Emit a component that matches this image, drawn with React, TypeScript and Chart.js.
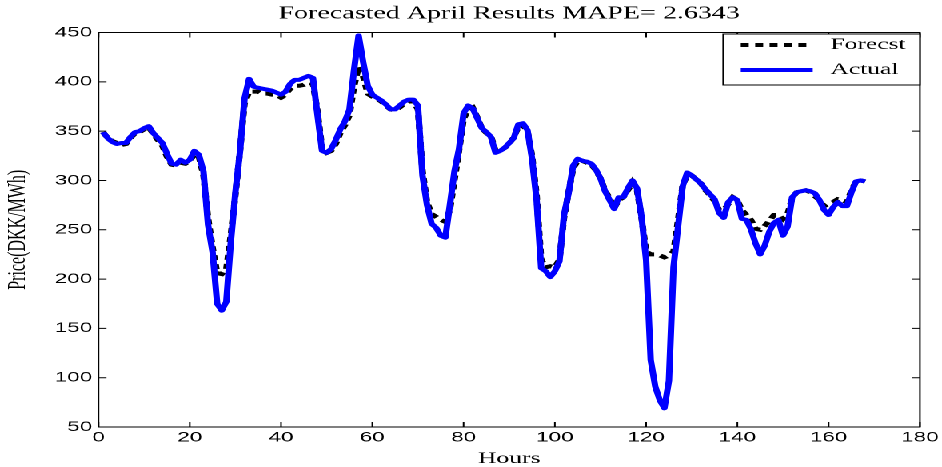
import React, { useEffect, useRef } from "react";
import { Chart, registerables } from "chart.js";

Chart.register(...registerables);

const TITLE = "Forecasted April Results MAPE= 2.6343";
const X_LABEL = "Hours";
const Y_LABEL = "Price(DKK/MWh)";
const SERIES_NAMES = ["Forecst", "Actual"];
const X_MIN = 0;
const X_MAX = 180;
const X_STEP = 20;
const Y_MIN = 50;
const Y_MAX = 450;
const Y_STEP = 50;

const FORECAST = [
  349, 343, 340, 338, 336, 337, 343, 348, 349, 352,
  354, 347, 341, 335, 324, 316, 315, 318, 317, 320,
  326, 324, 305, 262, 232, 206, 205, 210, 245, 285,
  330, 378, 390, 390, 390, 388, 388, 387, 387, 384,
  387, 393, 396, 396, 397, 399, 398, 370, 332, 328,
  330, 337, 348, 356, 366, 395, 415, 405, 388, 385,
  383, 380, 376, 372, 371, 374, 378, 380, 380, 372,
  310, 278, 266, 263, 260, 258, 270, 300, 330, 362,
  372, 374, 364, 353, 348, 345, 330, 330, 333, 337,
  344, 354, 356, 350, 325, 285, 220, 212, 213, 212,
  220, 262, 288, 312, 320, 320, 318, 316, 310, 302,
  290, 282, 272, 280, 283, 290, 298, 290, 262, 228,
  225, 225, 224, 222, 224, 228, 260, 295, 305, 305,
  301, 297, 290, 285, 279, 270, 270, 276, 283, 280,
  270, 265, 260, 251, 250, 254, 259, 265, 265, 261,
  266, 282, 288, 289, 290, 288, 284, 280, 274, 276,
  278, 281, 280, 278, 290, 299, 300, 299,
];

const ACTUAL = [
  349, 343, 339, 337, 338, 338, 344, 349, 350, 353,
  355, 348, 343, 338, 327, 317, 316, 321, 318, 321,
  330, 326, 309, 255, 227, 175, 168, 177, 238, 288,
  329, 383, 403, 395, 394, 393, 392, 391, 389, 387,
  390, 398, 402, 402, 404, 406, 404, 366, 330, 328,
  332, 341, 352, 360, 372, 412, 447, 420, 396, 387,
  384, 381, 377, 372, 372, 376, 380, 382, 382, 376,
  305, 275, 256, 252, 244, 242, 275, 309, 332, 368,
  376, 373, 363, 353, 349, 344, 328, 330, 333, 338,
  343, 357, 358, 351, 322, 280, 211, 208, 202, 208,
  218, 265, 287, 315, 322, 320, 319, 317, 311, 302,
  289, 280, 271, 283, 283, 292, 300, 292, 263, 219,
  118, 91, 77, 69, 97, 212, 253, 294, 308, 305,
  301, 297, 291, 286, 281, 267, 262, 278, 283, 280,
  261, 260, 250, 236, 225, 234, 248, 257, 260, 244,
  253, 283, 288, 289, 290, 289, 287, 280, 270, 265,
  273, 278, 274, 274, 288, 299, 300, 299,
];

const HOURS = ACTUAL.map((_, i) => i + 1);

// The reference figure is horizontally stretched; draw at a narrower logical width and stretch.
const VIEW_W = 942;
const VIEW_H = 467;
const LOGICAL_W = 589;
const STRETCH = VIEW_W / LOGICAL_W;

const SERIF = '"Liberation Serif", "Times New Roman", serif';
const SANS = '"Liberation Sans", Arial, sans-serif';

const framePlugin = {
  id: "matlabFrame",
  afterDatasetsDraw(chart: any) {
    const { ctx, chartArea: a, scales } = chart;
    const L = 5;
    ctx.save();
    ctx.strokeStyle = "#000";
    ctx.lineWidth = 1;
    ctx.setLineDash([]);
    ctx.strokeRect(a.left, a.top, a.right - a.left, a.bottom - a.top);
    ctx.beginPath();
    scales.x.ticks.forEach((t: any) => {
      const px = scales.x.getPixelForValue(t.value);
      ctx.moveTo(px, a.bottom);
      ctx.lineTo(px, a.bottom - L);
      ctx.moveTo(px, a.top);
      ctx.lineTo(px, a.top + L);
    });
    scales.y.ticks.forEach((t: any) => {
      const py = scales.y.getPixelForValue(t.value);
      ctx.moveTo(a.left, py);
      ctx.lineTo(a.left + L, py);
      ctx.moveTo(a.right, py);
      ctx.lineTo(a.right - L, py);
    });
    ctx.stroke();
    ctx.restore();
  },
};

const boxLegendPlugin = {
  id: "boxLegend",
  afterDraw(chart: any) {
    const { ctx, chartArea: a } = chart;
    const ds = chart.data.datasets;
    const boxW = 123;
    const boxH = 51;
    const x0 = a.right - boxW;
    const y0 = a.top + 1.5;
    ctx.save();
    ctx.fillStyle = "#fff";
    ctx.fillRect(x0, y0, boxW, boxH);
    ctx.strokeStyle = "#000";
    ctx.lineWidth = 1;
    ctx.setLineDash([]);
    ctx.strokeRect(x0, y0, boxW, boxH);
    ds.forEach((d: any, i: number) => {
      const cy = y0 + 11 + i * 25;
      ctx.beginPath();
      ctx.setLineDash(d.borderDash || []);
      ctx.lineWidth = d.borderWidth;
      ctx.strokeStyle = d.borderColor;
      ctx.lineCap = "butt";
      ctx.moveTo(x0 + 11, cy);
      ctx.lineTo(x0 + 56, cy);
      ctx.stroke();
      ctx.setLineDash([]);
      ctx.fillStyle = "#000";
      ctx.font = `16px ${SERIF}`;
      ctx.textBaseline = "middle";
      ctx.textAlign = "left";
      ctx.fillText(d.label, x0 + 67, cy);
    });
    ctx.restore();
  },
};

export default function App() {
  const ref = useRef<HTMLCanvasElement>(null);

  useEffect(() => {
    document.body.style.margin = "0";
    document.body.style.overflow = "hidden";
    const chart = new Chart(ref.current as HTMLCanvasElement, {
      type: "line",
      data: {
        datasets: [
          {
            label: SERIES_NAMES[0],
            data: HOURS.map((h, i) => ({ x: h, y: FORECAST[i] })),
            borderColor: "#000000",
            backgroundColor: "#000000",
            borderWidth: 4,
            borderDash: [5, 4],
            pointRadius: 0,
            tension: 0,
            order: 1,
          },
          {
            label: SERIES_NAMES[1],
            data: HOURS.map((h, i) => ({ x: h, y: ACTUAL[i] })),
            borderColor: "#0000ff",
            backgroundColor: "#0000ff",
            borderWidth: 4,
            pointRadius: 0,
            tension: 0,
            borderJoinStyle: "round",
            order: 0,
          },
        ],
      },
      options: {
        animation: false,
        responsive: true,
        maintainAspectRatio: false,
        devicePixelRatio: 2,
        events: [],
        layout: { padding: { left: 0, right: 13.8, top: 0, bottom: 0 } },
        plugins: {
          legend: { display: false },
          tooltip: { enabled: false },
          title: {
            display: true,
            text: TITLE,
            fullSize: false,
            color: "#000",
            font: { family: SERIF, size: 17.5, weight: "normal", lineHeight: 1.2 },
            padding: { top: 3.6, bottom: 7.9 },
          },
        },
        scales: {
          x: {
            type: "linear",
            min: X_MIN,
            max: X_MAX,
            grid: { display: false, drawTicks: false },
            border: { display: false },
            ticks: {
              stepSize: X_STEP,
              color: "#000",
              font: { family: SANS, size: 14 },
              padding: 2,
              maxRotation: 0,
              autoSkip: false,
            },
            title: {
              display: true,
              text: X_LABEL,
              color: "#000",
              font: { family: SERIF, size: 16, lineHeight: 1 },
              padding: { top: 0, bottom: 0 },
            },
            afterFit: (s: any) => {
              s.height = 40;
            },
          },
          y: {
            type: "linear",
            min: Y_MIN,
            max: Y_MAX,
            grid: { display: false, drawTicks: false },
            border: { display: false },
            ticks: {
              stepSize: Y_STEP,
              color: "#000",
              font: { family: SANS, size: 14 },
              padding: 4,
            },
            title: {
              display: true,
              text: Y_LABEL,
              color: "#000",
              font: { family: SERIF, size: 16, lineHeight: 1.2 },
              padding: { top: 1.5, bottom: 0 },
            },
            afterFit: (s: any) => {
              s.width = 61.6;
            },
          },
        },
      },
      plugins: [framePlugin, boxLegendPlugin],
    });
    return () => chart.destroy();
  }, []);

  return (
    <div
      style={{
        position: "absolute",
        left: 0,
        top: 0,
        width: LOGICAL_W,
        height: VIEW_H,
        transform: `scaleX(${STRETCH})`,
        transformOrigin: "0 0",
        background: "#fff",
      }}
    >
      <canvas ref={ref} />
    </div>
  );
}
